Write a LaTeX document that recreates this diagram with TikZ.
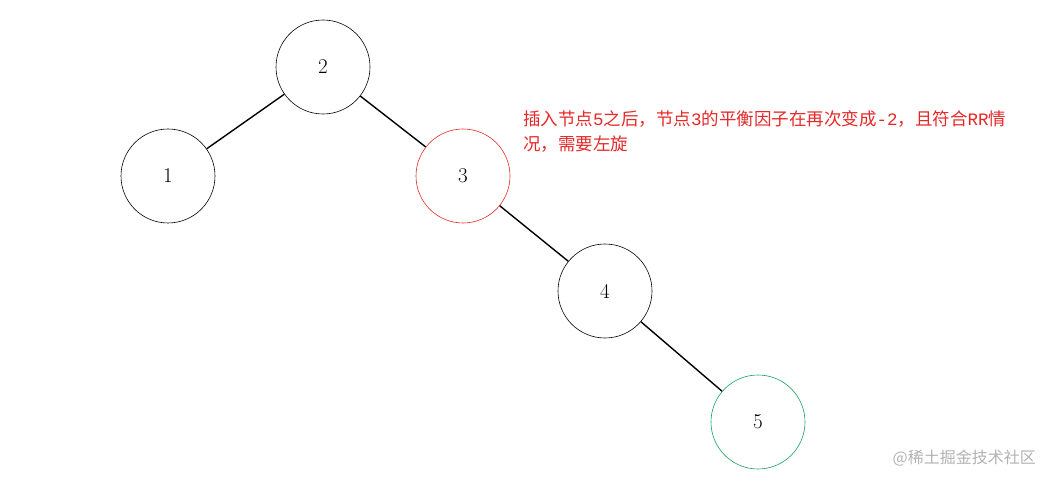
\documentclass[tikz,border=0pt]{standalone}
\usepackage{fontspec}
\newfontfamily\cjk{Noto Sans CJK SC}
\newfontfamily\lmono{Liberation Mono}
\definecolor{myred}{RGB}{230,40,40}
\definecolor{mygreen}{RGB}{20,160,90}
\begin{document}
\begin{tikzpicture}[x=1pt,y=-1pt,
  tn/.style={circle,draw,line width=0.6pt,minimum size=94pt,inner sep=0pt,font=\fontsize{21}{24}\selectfont},
  ed/.style={line width=1.4pt}]
\useasboundingbox (0,0) rectangle (1053,484);
\node[tn] (n2) at (323,67) {2};
\node[tn] (n1) at (168,176) {1};
\node[tn,draw=myred] (n3) at (463,176) {3};
\node[tn] (n4) at (605,291) {4};
\node[tn,draw=mygreen] (n5) at (758,422) {5};
\draw[ed] (n2) -- (n1);
\draw[ed] (n2) -- (n3);
\draw[ed] (n3) -- (n4);
\draw[ed] (n4) -- (n5);
\node[anchor=north west,text=myred,font=\cjk\fontsize{17.5}{25}\selectfont,align=left,inner sep=0pt] (t) at (523,110)
  {插入节点{\lmono 5}之后，节点{\lmono 3}的平衡因子在再次变成{\lmono -2}，且符合{\lmono RR}情\\况，需要左旋};
\node[anchor=east,text=gray!60,font=\cjk\fontsize{16}{18}\selectfont,inner sep=0pt] (w) at (1036,458) {@稀土掘金技术社区};
\end{tikzpicture}
\end{document}
